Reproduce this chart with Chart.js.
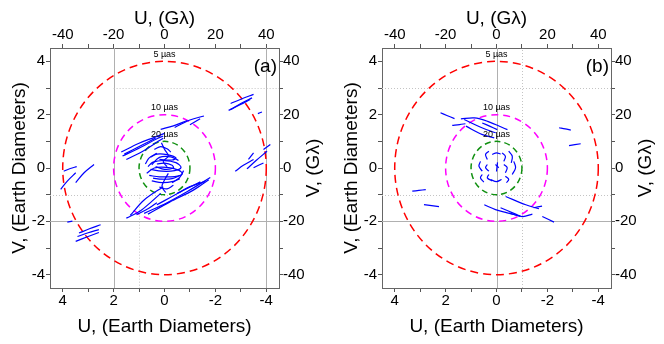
<!DOCTYPE html>
<html>
<head>
<meta charset="utf-8">
<script src="https://cdn.jsdelivr.net/npm/chart.js@4.4.0/dist/chart.umd.min.js"></script>
<style>
body { margin: 0; background: #fff; }
.wrap { display: flex; width: 664px; height: 344px; }
canvas { display: block; }
</style>
</head>
<body>
<div class="wrap">
<canvas id="chart-a" width="332" height="344"></canvas>
<canvas id="chart-b" width="332" height="344"></canvas>
</div>
<script>
// tick positions (minor ticks included), labels only on every other one
const ticksED = [-4, -3, -2, -1, 0, 1, 2, 3, 4];
const ticksGl = [-40, -30, -20, -10, 0, 10, 20, 30, 40];

// resolution circles (radius in Earth diameters)
const circleRadii = [4, 2, 1];
const circleLabels = ['5 µas', '10 µas', '20 µas'];
const circleLabelV = [4.27, 2.27, 1.27];
const circleColors = ['#ff0000', '#ff00ff', '#109010'];
const circleDash = [[8, 5], [7, 5], [6, 4]];

const panelLabels = ['(a)', '(b)'];

// gray reference lines: [value, from, to]
const solidUA = [[2, -4.5, 4.5], [-4, -4.5, 4.5]];
const solidVA = [[-2, 4.5, -4.5]];
const dotUA = [[1, -1, -4.5]];
const dotVA = [[3, 2, -4.5], [-1, 4.5, -4.5]];
const solidUB = [[0, -4.5, 4.5]];
const solidVB = [[-2, 4.5, -4.5]];
const dotUB = [[-1, -4.5, 4.5]];
const dotVB = [[3, 4.5, -4.5], [-1, 4.5, -4.5]];

// uv tracks, [U, V] in Earth diameters
const tracksA = [
    [[-2.6, 2.42], [-3.0, 2.58], [-3.5, 2.76]],
    [[-2.52, 2.16], [-2.95, 2.36], [-3.37, 2.57]],
    [[-2.59, 2.19], [-3.0, 2.42], [-3.44, 2.63]],
    [[-3.67, 2.04], [-3.83, 2.10]],
    [[3.36, -2.44], [2.95, -2.28], [2.51, -2.13]],
    [[3.42, -2.57], [3.0, -2.43], [2.58, -2.31]],
    [[3.49, -2.75], [3.0, -2.57], [2.58, -2.42]],
    [[3.82, -2.03], [3.62, -1.99]],
    [[-2.78, -0.12], [-3.1, 0.1], [-3.5, 0.32]],
    [[-3.24, -0.03], [-3.6, 0.28], [-4.03, 0.63]],
    [[-3.5, 0.01], [-3.89, 0.19]],
    [[-3.3, 0.32], [-3.5, 0.57]],
    [[-3.89, 0.69], [-4.16, 0.88]],
    [[3.96, -0.12], [3.7, -0.02], [3.45, 0.05]],
    [[4.08, -0.8], [3.82, -0.49], [3.49, -0.18]],
    [[3.49, -0.55], [3.16, -0.18], [2.77, 0.13]],
    [[1.7, 0.6], [1.0, 0.93], [0.4, 1.15], [0.0, 1.3]],
    [[1.65, 0.45], [0.95, 0.77], [0.3, 1.1], [0.05, 1.2]],
    [[1.5, 0.32], [0.8, 0.66], [0.25, 1.0], [0.05, 1.12]],
    [[1.58, 0.52], [0.9, 0.85], [0.35, 1.12]],
    [[0.15, 1.45], [-0.35, 1.58], [-0.9, 1.78]],
    [[-0.4, 1.52], [-1.0, 1.8], [-1.55, 1.95]],
    [[-1.0, 1.62], [-1.4, 1.85]],
    [[0.8, -1.7], [-0.1, -1.3], [-0.9, -0.88], [-1.8, -0.36]],
    [[0.65, -1.73], [-0.2, -1.28], [-1.15, -0.82], [-1.74, -0.44]],
    [[0.3, -1.38], [-0.63, -0.9], [-1.41, -0.52]],
    [[-0.5, -0.95], [-1.0, -0.7], [-1.6, -0.5]],
    [[1.5, -1.88], [0.94, -1.6], [0.5, -1.25], [0.15, -0.95]],
    [[1.1, -1.75], [0.6, -1.5], [0.3, -1.3]],
    [[1.35, -1.78], [0.8, -1.2], [0.05, -0.7]],
    [[0.65, 0.05], [0.45, 0.22], [0.0, 0.28], [-0.45, 0.2], [-0.65, 0.02], [-0.4, -0.1], [0.1, -0.12], [0.55, -0.05]],
    [[0.7, -0.2], [0.4, 0.0], [-0.1, 0.02], [-0.55, -0.08], [-0.7, -0.22], [-0.4, -0.32], [0.2, -0.33], [0.6, -0.28]],
    [[0.55, 0.4], [0.3, 0.52], [-0.1, 0.5], [-0.45, 0.38], [-0.3, 0.3], [0.2, 0.32]],
    [[0.5, -0.48], [0.1, -0.55], [-0.35, -0.5], [-0.6, -0.4]],
    [[0.12, 0.95], [0.0, 0.7], [-0.15, 0.45], [0.05, 0.25], [-0.1, 0.05]],
    [[-0.15, -0.2], [0.0, -0.45], [0.1, -0.7], [-0.05, -0.92]],
    [[0.4, 0.7], [0.15, 0.8], [-0.1, 0.72], [-0.25, 0.6]],
    [[-0.35, -0.65], [-0.1, -0.78], [0.2, -0.72]],
    [[0.75, 0.15], [0.6, 0.38], [0.3, 0.55]],
    [[-0.75, -0.1], [-0.6, -0.35], [-0.3, -0.55]],
    [[0.3, 0.15], [0.0, 0.18], [-0.3, 0.1], [-0.35, 0.0], [0.0, -0.05], [0.35, 0.05]],
    [[0.5, 0.12], [0.2, 0.4], [-0.25, 0.42], [-0.55, 0.28]],
    [[0.45, -0.38], [0.1, -0.42], [-0.3, -0.4], [-0.6, -0.28]]
];

const tracksB = [
    [[2.2, 2.07], [1.95, 1.97], [1.65, 1.85]],
    [[1.74, 1.6], [1.45, 1.63], [1.22, 1.66]],
    [[1.4, 1.84], [0.87, 1.88], [0.35, 1.75], [-0.43, 1.44]],
    [[1.2, 1.57], [0.55, 1.25], [0.09, 1.13]],
    [[1.27, 1.82], [0.55, 1.5], [0.03, 1.32]],
    [[0.56, 1.69], [0.25, 1.56], [-0.03, 1.44]],
    [[-2.46, 1.51], [-2.7, 1.47], [-2.92, 1.42]],
    [[-2.85, 0.84], [-3.31, 0.91]],
    [[-0.36, -1.07], [-1.15, -1.38], [-1.67, -1.53]],
    [[0.48, -1.38], [0.04, -1.56], [-0.42, -1.68], [-0.94, -1.81]],
    [[-0.16, -1.49], [-0.68, -1.70], [-0.94, -1.81]],
    [[-0.5, -1.69], [-1.02, -1.82], [-1.41, -1.73]],
    [[-1.46, -1.49], [-1.79, -1.43]],
    [[-1.8, -1.82], [-2.26, -2.03]],
    [[3.31, -0.87], [3.05, -0.84], [2.78, -0.81]],
    [[2.85, -1.37], [2.55, -1.41], [2.26, -1.45]],
    [[0.30, 0.63], [0.43, 0.51], [0.36, 0.32]],
    [[-0.22, 0.57], [-0.35, 0.44], [-0.29, 0.25]],
    [[-0.48, 0.63], [-0.62, 0.44], [-0.58, 0.19]],
    [[0.63, 0.25], [0.69, 0.07], [0.56, -0.12]],
    [[0.36, 0.13], [0.43, 0.01], [0.30, -0.12]],
    [[-0.29, 0.13], [-0.42, 0.01], [-0.35, -0.18]],
    [[-0.68, 0.25], [-0.75, 0.01], [-0.62, -0.24]],
    [[0.56, -0.24], [0.63, -0.37], [0.50, -0.53]],
    [[0.30, -0.24], [0.36, -0.37], [0.17, -0.49]],
    [[-0.35, -0.31], [-0.48, -0.43], [-0.39, -0.55]],
    [[0.04, 0.13], [-0.09, 0.01]],
    [[-0.04, 0.21], [0.0, -0.13]],
    [[0.17, 0.51], [0.0, 0.57], [-0.16, 0.52]],
    [[0.24, -0.43], [0.0, -0.51], [-0.2, -0.43]]
];

const fontFamily = 'Arial, "Liberation Sans", sans-serif';

function setTicks(values) {
    return function(axis) {
        axis.ticks = values.map(v => ({ value: v }));
    };
}

function axisBase() {
    return {
        type: 'linear',
        min: -4.5,
        max: 4.5,
        grid: { drawOnChartArea: false, drawTicks: true, tickLength: 4, tickColor: '#555' },
        border: { display: true, color: '#666', width: 1 },
        ticks: { autoSkip: false, maxRotation: 0, color: '#000', font: { family: fontFamily, size: 15 } }
    };
}

function makeScales() {
    const titleFont = { family: fontFamily, size: 19 };

    const x = axisBase();
    x.position = 'bottom';
    x.reverse = true;
    x.ticks.padding = 0;
    x.ticks.callback = v => (v % 2 === 0 ? String(v) : '');
    x.afterBuildTicks = setTicks(ticksED);
    x.afterFit = axis => { axis.height = 56; };
    x.title = { display: true, text: 'U, (Earth Diameters)', color: '#000', font: titleFont, padding: { top: 0, bottom: 6 } };

    const xTop = axisBase();
    xTop.position = 'top';
    xTop.min = -45;
    xTop.max = 45;
    xTop.ticks.padding = 0;
    xTop.ticks.callback = v => (v % 20 === 0 ? String(v) : '');
    xTop.afterBuildTicks = setTicks(ticksGl);
    xTop.afterFit = axis => { axis.height = 48; };
    xTop.title = { display: true, text: 'U, (Gλ)', color: '#000', font: titleFont, padding: { top: 7, bottom: 0 } };

    const y = axisBase();
    y.position = 'left';
    y.ticks.padding = 1;
    y.ticks.callback = v => (v % 2 === 0 ? String(v) : '');
    y.afterBuildTicks = setTicks(ticksED);
    y.afterFit = axis => { axis.width = 50; };
    y.title = { display: true, text: 'V, (Earth Diameters)', color: '#000', font: titleFont, padding: { top: 8, bottom: 0 } };

    const yRight = axisBase();
    yRight.position = 'right';
    yRight.min = -45;
    yRight.max = 45;
    yRight.ticks.padding = 0;
    yRight.ticks.callback = v => (v % 20 === 0 ? String(v) : '');
    yRight.afterBuildTicks = setTicks(ticksGl);
    yRight.afterFit = axis => { axis.width = 53; };

    return { x: x, xTop: xTop, y: y, yRight: yRight };
}

const overlayPlugin = {
    id: 'overlay',
    beforeDatasetsDraw(chart, args, opts) {
        const { ctx, chartArea } = chart;
        const xs = chart.scales.x, ys = chart.scales.y;
        ctx.save();
        ctx.beginPath();
        ctx.rect(chartArea.left, chartArea.top, chartArea.right - chartArea.left, chartArea.bottom - chartArea.top);
        ctx.clip();

        function drawU(list, dotted) {
            list.forEach(([u, from, to]) => {
                const px = Math.round(xs.getPixelForValue(u)) + 0.5;
                ctx.beginPath();
                ctx.moveTo(px, ys.getPixelForValue(from));
                ctx.lineTo(px, ys.getPixelForValue(to));
                ctx.strokeStyle = dotted ? '#c4c4c4' : '#b0b0b0';
                ctx.setLineDash(dotted ? [1, 2] : []);
                ctx.lineWidth = 1;
                ctx.stroke();
            });
        }
        function drawV(list, dotted) {
            list.forEach(([v, from, to]) => {
                const py = Math.round(ys.getPixelForValue(v)) + 0.5;
                ctx.beginPath();
                ctx.moveTo(xs.getPixelForValue(from), py);
                ctx.lineTo(xs.getPixelForValue(to), py);
                ctx.strokeStyle = dotted ? '#c4c4c4' : '#b0b0b0';
                ctx.setLineDash(dotted ? [1, 2] : []);
                ctx.lineWidth = 1;
                ctx.stroke();
            });
        }
        drawU(opts.solidU, false);
        drawV(opts.solidV, false);
        drawU(opts.dotU, true);
        drawV(opts.dotV, true);

        const cx = xs.getPixelForValue(0), cy = ys.getPixelForValue(0);
        circleRadii.forEach((r, i) => {
            const rx = Math.abs(xs.getPixelForValue(r) - cx);
            const ry = Math.abs(ys.getPixelForValue(r) - cy);
            ctx.beginPath();
            ctx.ellipse(cx, cy, rx, ry, 0, 0, Math.PI * 2);
            ctx.strokeStyle = circleColors[i];
            ctx.setLineDash(circleDash[i]);
            ctx.lineWidth = 1.5;
            ctx.stroke();
        });
        ctx.restore();
    },
    afterDraw(chart, args, opts) {
        const { ctx, chartArea } = chart;
        const xs = chart.scales.x, ys = chart.scales.y;
        ctx.save();
        ctx.fillStyle = '#000';
        ctx.textAlign = 'center';
        ctx.textBaseline = 'middle';
        ctx.font = '9px ' + fontFamily;
        circleLabels.forEach((txt, i) => {
            ctx.fillText(txt, xs.getPixelForValue(0), ys.getPixelForValue(circleLabelV[i]));
        });

        ctx.font = '19px ' + fontFamily;
        ctx.textAlign = 'right';
        ctx.fillText(opts.label, chartArea.right - 2, chartArea.top + 19);

        // right axis title, reading bottom to top
        const r = chart.scales.yRight;
        ctx.translate(r.right - 18, (chartArea.top + chartArea.bottom) / 2);
        ctx.rotate(-Math.PI / 2);
        ctx.textAlign = 'center';
        ctx.font = '19px ' + fontFamily;
        ctx.fillText('V, (Gλ)', 0, 0);
        ctx.restore();
    }
};

function drawPanel(canvasId, tracks, label, solidU, solidV, dotU, dotV) {
    const datasets = tracks.map(track => ({
        data: track.map(p => ({ x: p[0], y: p[1] })),
        showLine: true,
        borderColor: '#0000ff',
        borderWidth: 1.2,
        pointRadius: 0,
        tension: 0.35,
        xAxisID: 'x',
        yAxisID: 'y'
    }));

    new Chart(document.getElementById(canvasId), {
        type: 'scatter',
        data: { datasets: datasets },
        options: {
            responsive: false,
            animation: false,
            layout: { padding: 0 },
            scales: makeScales(),
            plugins: {
                legend: { display: false },
                tooltip: { enabled: false },
                overlay: { label: label, solidU: solidU, solidV: solidV, dotU: dotU, dotV: dotV }
            }
        },
        plugins: [overlayPlugin]
    });
}

drawPanel('chart-a', tracksA, panelLabels[0], solidUA, solidVA, dotUA, dotVA);
drawPanel('chart-b', tracksB, panelLabels[1], solidUB, solidVB, dotUB, dotVB);
</script>
</body>
</html>
